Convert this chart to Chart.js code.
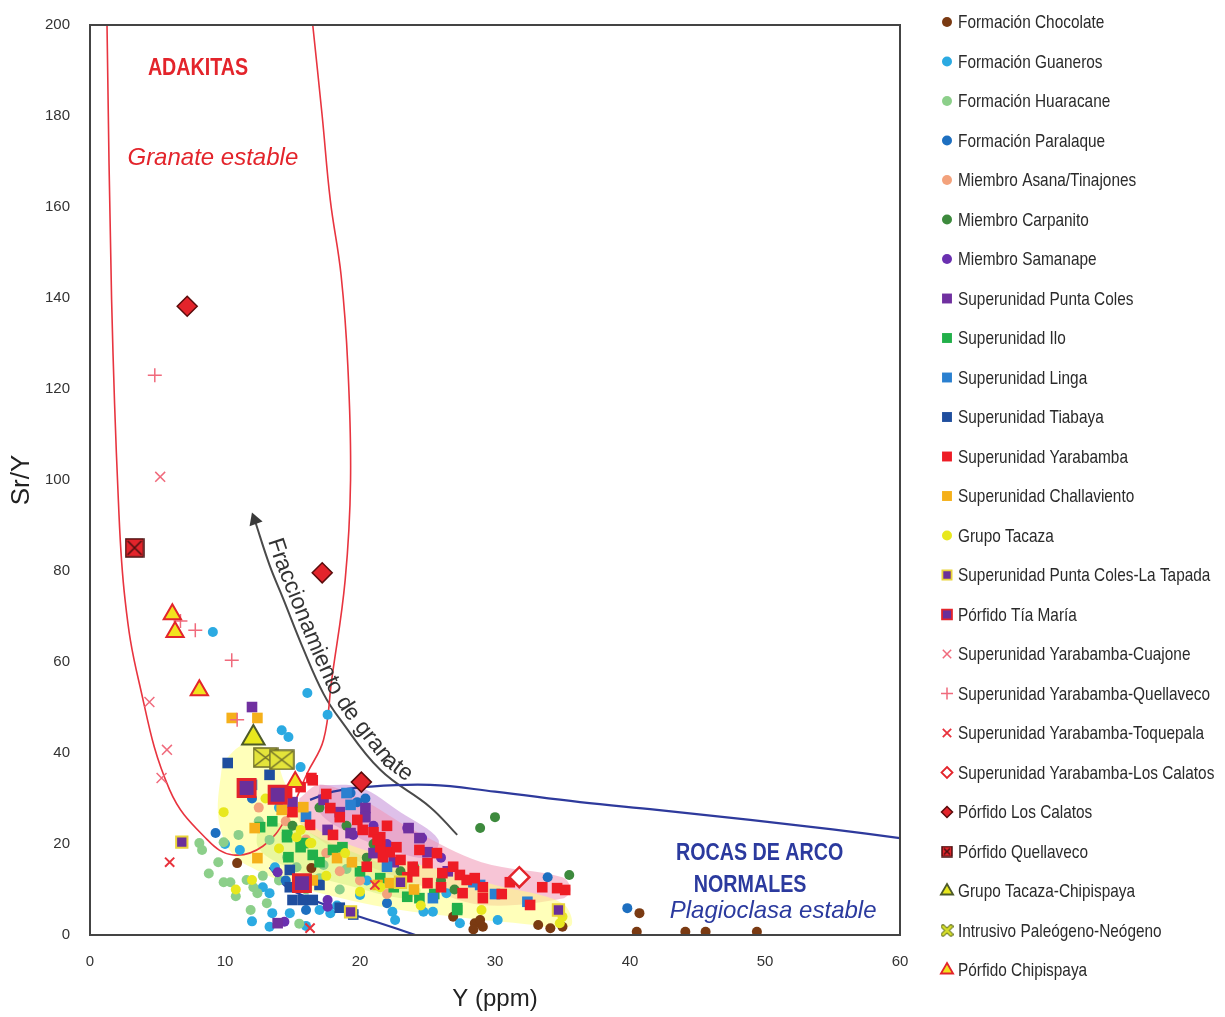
<!DOCTYPE html>
<html>
<head>
<meta charset="utf-8">
<script src="https://cdn.jsdelivr.net/npm/chart.js@4.4.1/dist/chart.umd.min.js"></script>
<style>
  html, body { margin: 0; padding: 0; background: #fff; }
  #wrap { width: 1225px; height: 1017px; }
</style>
</head>
<body>
<div id="wrap"><canvas id="srY"></canvas></div>
<script>
// --- data: [Y (ppm), Sr/Y] ---
const chocolate = [[40.7,4.8],[40.5,0.7],[44.1,0.7],[45.6,0.7],[49.4,0.7],[10.9,15.8],[16.4,14.7],[26.9,4],[28.5,2.6],[28.9,3.3],[29.1,1.8],[28.4,1.2],[33.2,2.2],[34.1,1.5],[35,1.8]];
const guaneros = [[9.1,66.6],[16.1,53.2],[17.6,48.4],[14.2,45],[14.7,43.5],[15.6,36.9],[11.1,18.7],[12.8,10.5],[13.3,9.2],[13.5,4.8],[14.8,4.8],[17,5.5],[17.8,4.8],[13.3,1.8],[13.7,14.9],[22.4,5.1],[22.6,3.3],[24.7,5.1],[25.4,5.1],[27.4,2.6],[30.2,3.3],[26.4,9.2],[20,8.8],[18.3,6.5],[12,3],[16,2],[19.5,5],[14,28],[20.5,12],[10,20]];
const huaracane = [[9.9,11.6],[10.4,11.6],[11.6,12.1],[12.1,10.5],[12.4,9.2],[11.9,5.5],[13.1,7],[8.1,20.2],[8.3,18.7],[9.9,20.4],[14.6,17.1],[15.3,14.9],[17.3,15.4],[13.3,20.9],[10.8,8.5],[12.8,13],[14,12],[16,10],[18.5,10],[11,22],[12.5,25],[9.5,16],[8.8,13.5],[15.5,2.5],[17,12.5],[19,14.5]];
const paralaque = [[9.3,22.4],[39.8,5.9],[19.3,31.2],[19.8,29.2],[20.4,30],[33.9,12.7],[14.5,12],[16,5.5],[22,7],[12,30]];
const asana = [[14.5,25],[16,21],[18.5,14],[20,12],[22,9],[12.5,28],[17.5,18]];
const carpanito = [[28.9,23.5],[30,25.9],[35.5,13.2],[17,28],[19,24],[21,20],[24,15],[26,12],[20.5,17],[23,14],[15,24],[27,10]];
const samanape = [[23.5,23.5],[24.6,21.3],[13.9,13.8],[17.6,6.2],[14.4,2.9],[17.6,7.7],[19.5,22],[22,20],[26,17],[21,24]];
const puntaColes = [[12,50.1],[20.4,27.9],[20.4,25.9],[23.6,23.5],[24.4,21.3],[25,18.2],[17.6,23.1],[19.3,22.4],[21,18],[17.3,29.7],[15,29.2],[14.3,31.2],[13.9,2.6],[22.5,16],[26.5,14],[18.5,27]];
const ilo = [[14.6,22],[15.6,19.3],[16.5,17.6],[23.5,8.4],[24.4,8.1],[27.2,5.9],[14.7,17.1],[12.6,23.7],[14.6,21.5],[15.8,20.2],[18,18.7],[18.7,19.3],[27.2,5.5],[20,14],[21.5,12.5],[22.5,10.5],[25.5,9],[13.5,25],[17,16]];
const linga = [[19.3,28.6],[19,31.2],[28.9,11],[32.4,7.3],[28.4,11.6],[25.4,8.1],[16,26],[22,15],[30,9],[12,33]];
const tiabaya = [[10.2,37.8],[13.3,35.2],[15,7.7],[15.8,7.7],[16.5,7.7],[14.8,10.5],[14.8,14.3],[18.5,6],[19.5,4.5],[17,11]];
const yarabamba = [[16.5,34],[17.8,27.9],[21.5,21.5],[22.2,18.2],[23,16.5],[24.4,18.7],[25,15.8],[26.1,13.6],[26.9,15],[27.4,13.2],[27.9,12.1],[29.1,10.5],[31.1,11.6],[34.6,10.3],[35.2,9.9],[27.6,9.2],[29.1,8.1],[32.6,6.6],[15.6,32.5],[16.4,34.5],[14.6,31.2],[21,22.6],[21.5,19.3],[23.9,15],[23.5,12.7],[25,11.4],[25.7,18],[19.8,25.3],[20.2,23.1],[18.5,25.9],[22.7,19.3],[16.3,24.2],[15,27],[21.3,20.9],[21.7,17.1],[24,14],[26,10.5],[28.5,12.5],[33.5,10.5],[20.5,15],[18,22],[30.5,9],[17.5,31],[22,24]];
const challaviento = [[10.5,47.7],[12.4,47.7],[12.2,23.5],[14.2,27.5],[15.8,28.1],[19.4,16],[12.4,16.9],[18.3,16.9],[22.2,11.4],[21.3,11],[16.5,12],[24,10]];
const tacaza = [[9.9,27],[12,12.1],[15.3,21.5],[16.4,20.2],[18.9,18],[15.6,23.1],[16.3,20.2],[21.5,10.5],[34.8,2.6],[35,4],[11.5,33],[13,30],[14,19],[20,9.5],[24.5,6.5],[29,5.5],[10.8,10],[17.5,13]];
const laTapada = [[6.8,20.4],[19.3,5.1],[23,11.6],[34.7,5.5]];
const tiaMaria = [[11.6,32.3],[13.9,30.8],[15.7,11.4]];
const cuajone = [[5.2,100.7],[4.4,51.2],[5.7,40.7],[5.3,34.5]];
const quellavecoSU = [[4.8,123],[6.7,69],[7.8,67],[10.5,60.4],[10.9,47.3]];
const toquepala = [[5.9,16],[16.3,1.5],[21.1,11]];
const losCalatosSU = [[31.8,12.7]];
const porfidoLosCalatos = [[7.2,138.2],[17.2,79.6],[20.1,33.6]];
const porfidoQuellaveco = [[3.3,85.1]];
const tacazaChipispaya = [[12.1,43.3]];
const intrusivo = [[13,39],[14.2,38.5]];
const porfidoChipispaya = [[6.1,70.5],[6.3,66.6],[8.1,53.8],[15.2,33.6]];

// boundaries and fields
const adakiteLine = [[1.26,200],[1.6,139.6],[2.1,95.6],[2.6,73.6],[3.6,56],[5.9,31.9],[8.7,20.9],[10.6,17.6],[12.8,19.5],[14.6,26],[16.1,35.6],[17.3,42.9],[17.9,56],[18.9,78],[19.3,100],[19.1,125],[18.6,145],[17.8,161.5],[17.2,180],[16.5,200]];
const arcLine = [[16.3,29.7],[18,31.5],[20.2,32.5],[25.2,33],[30,31.5],[36.3,29.2],[42,27.5],[48.9,25.3],[55,23.2],[60,21.3]];
const arcLineLow = [[13.3,14.9],[14.6,10.5],[18,6],[21.5,2.6],[24.1,0]];
const arrowLine = [[27.2,22],[25.2,28.1],[21.5,36.3],[18.5,47.5],[17.3,53],[15.8,62.9],[14.3,74],[13.3,81.3],[12.2,91.2]];
const yellowField = [[9.8,38],[11.5,42],[13.5,40],[14.5,33],[16.5,24],[20,19],[25,15],[30,11],[35,7],[35.6,2],[32,2.5],[27,4],[22,6],[18,8.5],[15,11],[12.5,14],[10.5,18],[9.5,26],[9.8,38]];
const pinkField = [[15.5,30],[17,33],[20,30],[24,23],[29,16],[35,12.7],[35.6,10],[35,8],[29,6.6],[24.4,11],[20,16],[17,21],[15.5,25],[15.5,30]];
const purpleField = [[17,33],[20,32.5],[23,27],[25.8,21],[25,17],[22,19],[19.5,22],[17,27],[17,33]];
const greenField = [[12.5,25],[15,24],[18,20],[22,15],[24.5,10],[23.5,8],[19,11],[15,14.5],[12.5,19],[12.5,25]];

const xTicks = [0, 10, 20, 30, 40, 50, 60];
const yTicks = [0, 20, 40, 60, 80, 100, 120, 140, 160, 180, 200];

const toXY = arr => arr.map(p => ({x: p[0], y: p[1]}));

function marker(w, h, draw) {
    const c = document.createElement('canvas');
    c.width = w; c.height = h;
    draw(c.getContext('2d'), w, h);
    return c;
}
function quellMarker(s) {
    return marker(s, s, (g, w) => {
        g.fillStyle = '#E3242B'; g.fillRect(1, 1, w - 2, w - 2);
        g.strokeStyle = '#4a1010'; g.lineWidth = 1.5; g.strokeRect(1, 1, w - 2, w - 2);
        g.beginPath(); g.moveTo(3, 3); g.lineTo(w - 3, w - 3); g.moveTo(w - 3, 3); g.lineTo(3, w - 3); g.stroke();
    });
}
const intrusivoImg = marker(26, 21, (g, w, h) => {
    g.fillStyle = '#E4E43A'; g.fillRect(1, 1, w - 2, h - 2);
    g.strokeStyle = '#6b6b2a'; g.lineWidth = 1.5; g.strokeRect(1, 1, w - 2, h - 2);
    g.beginPath(); g.moveTo(2, 2); g.lineTo(w - 2, h - 2); g.moveTo(w - 2, 2); g.lineTo(2, h - 2); g.stroke();
});
const intrusivoLeg = marker(13, 13, (g, w) => {
    g.lineCap = 'round';
    g.strokeStyle = '#5d6b1e'; g.lineWidth = 4.5;
    g.beginPath(); g.moveTo(2.5, 2.5); g.lineTo(w - 2.5, w - 2.5); g.moveTo(w - 2.5, 2.5); g.lineTo(2.5, w - 2.5); g.stroke();
    g.strokeStyle = '#D4DC2C'; g.lineWidth = 2.5; g.stroke();
});

// label, data, style, radius, fill, border, borderWidth, legend radius
const series = [
    {label: 'Formación Chocolate', data: chocolate, ps: 'circle', r: 5, bg: '#7A3A12', bc: '#7A3A12', bw: 0, lr: 5},
    {label: 'Formación Guaneros', data: guaneros, ps: 'circle', r: 5, bg: '#2BAAE2', bc: '#2BAAE2', bw: 0, lr: 5},
    {label: 'Formación Huaracane', data: huaracane, ps: 'circle', r: 5, bg: '#8CCF8A', bc: '#8CCF8A', bw: 0, lr: 5},
    {label: 'Formación Paralaque', data: paralaque, ps: 'circle', r: 5, bg: '#1D6FC0', bc: '#1D6FC0', bw: 0, lr: 5},
    {label: 'Miembro Asana/Tinajones', data: asana, ps: 'circle', r: 5, bg: '#F3A27C', bc: '#F3A27C', bw: 0, lr: 5},
    {label: 'Miembro Carpanito', data: carpanito, ps: 'circle', r: 5, bg: '#3D8A3D', bc: '#3D8A3D', bw: 0, lr: 5},
    {label: 'Miembro Samanape', data: samanape, ps: 'circle', r: 5, bg: '#6A30B0', bc: '#6A30B0', bw: 0, lr: 5},
    {label: 'Superunidad Punta Coles', data: puntaColes, ps: 'rect', r: 7.5, bg: '#7030A0', bc: '#7030A0', bw: 0, lr: 7},
    {label: 'Superunidad Ilo', data: ilo, ps: 'rect', r: 7.5, bg: '#22B04A', bc: '#22B04A', bw: 0, lr: 7},
    {label: 'Superunidad Linga', data: linga, ps: 'rect', r: 7.5, bg: '#2A80D0', bc: '#2A80D0', bw: 0, lr: 7},
    {label: 'Superunidad Tiabaya', data: tiabaya, ps: 'rect', r: 7.5, bg: '#1F4E9E', bc: '#1F4E9E', bw: 0, lr: 7},
    {label: 'Superunidad Yarabamba', data: yarabamba, ps: 'rect', r: 7.5, bg: '#EE1C25', bc: '#EE1C25', bw: 0, lr: 7},
    {label: 'Superunidad Challaviento', data: challaviento, ps: 'rect', r: 7.5, bg: '#F5B01A', bc: '#F5B01A', bw: 0, lr: 7},
    {label: 'Grupo Tacaza', data: tacaza, ps: 'circle', r: 5, bg: '#E8E81E', bc: '#E8E81E', bw: 0, lr: 5},
    {label: 'Superunidad Punta Coles-La Tapada', data: laTapada, ps: 'rect', r: 8, bg: '#6A2F9A', bc: '#E9D43A', bw: 2, lr: 6.5},
    {label: 'Pórfido Tía María', data: tiaMaria, ps: 'rect', r: 12, bg: '#6A2F9A', bc: '#E3242B', bw: 3, lr: 7},
    {label: 'Superunidad Yarabamba-Cuajone', data: cuajone, ps: 'crossRot', r: 7, bg: '#F06A7C', bc: '#F06A7C', bw: 1.5, lr: 6},
    {label: 'Superunidad Yarabamba-Quellaveco', data: quellavecoSU, ps: 'cross', r: 7, bg: '#F06A7C', bc: '#F06A7C', bw: 1.5, lr: 6},
    {label: 'Superunidad Yarabamba-Toquepala', data: toquepala, ps: 'crossRot', r: 6.5, bg: '#E8323C', bc: '#E8323C', bw: 2, lr: 6},
    {label: 'Superunidad Yarabamba-Los Calatos', data: losCalatosSU, ps: 'rectRot', r: 10, bg: '#ffffff', bc: '#E3242B', bw: 2.5, lr: 5.5},
    {label: 'Pórfido Los Calatos', data: porfidoLosCalatos, ps: 'rectRot', r: 10, bg: '#E3242B', bc: '#5a0c0c', bw: 1.5, lr: 5.5},
    {label: 'Pórfido Quellaveco', data: porfidoQuellaveco, ps: quellMarker(20), r: 10, legendImg: quellMarker(12), lr: 6},
    {label: 'Grupo Tacaza-Chipispaya', data: tacazaChipispaya, ps: 'triangle', r: 13, bg: '#E8E81E', bc: '#4d5a2a', bw: 2, lr: 7},
    {label: 'Intrusivo Paleógeno-Neógeno', data: intrusivo, ps: intrusivoImg, r: 12, legendImg: intrusivoLeg, lr: 6},
    {label: 'Pórfido Chipispaya', data: porfidoChipispaya, ps: 'triangle', r: 10, bg: '#F2E21E', bc: '#E3242B', bw: 2, lr: 7}
];

const datasets = [];
series.forEach((s, i) => {
    datasets.push({
        label: s.label,
        data: toXY(s.data),
        pointStyle: s.ps,
        pointRadius: s.r,
        pointBackgroundColor: s.bg || '#000',
        pointBorderColor: s.bc || '#000',
        pointBorderWidth: s.bw || 0,
        order: 25 - i
    });
});

function fieldSet(data, color) {
    return {data: toXY(data), showLine: true, fill: 'shape', backgroundColor: color,
            borderWidth: 0, borderColor: 'rgba(0,0,0,0)', pointRadius: 0, tension: 0.35, order: 50};
}
function lineSet(data, color, width) {
    return {data: toXY(data), showLine: true, fill: false, borderColor: color, borderWidth: width,
            pointRadius: 0, tension: 0.4, order: 40};
}
datasets.push(fieldSet(yellowField, 'rgba(255,255,130,0.55)'));
datasets.push(fieldSet(greenField, 'rgba(150,220,120,0.45)'));
datasets.push(fieldSet(pinkField, 'rgba(240,150,180,0.55)'));
datasets.push(fieldSet(purpleField, 'rgba(195,140,215,0.55)'));
datasets.push(lineSet(adakiteLine, '#E8343F', 1.6));
datasets.push(lineSet(arcLine, '#2E3A9C', 2.2));
datasets.push(lineSet(arcLineLow, '#2E3A9C', 2.2));
const arrowSet = lineSet(arrowLine, '#4a4a4a', 2);
arrowSet.pointRadius = c => c.dataIndex === arrowLine.length - 1 ? 8 : 0;
arrowSet.pointStyle = 'triangle';
arrowSet.pointRotation = -20;
arrowSet.pointBackgroundColor = '#3a3a3a';
arrowSet.pointBorderColor = '#3a3a3a';
arrowSet.pointBorderWidth = 0;
datasets.push(arrowSet);

function drawMarker(ctx, s, x, y) {
    if (s.legendImg) {
        ctx.drawImage(s.legendImg, x - s.legendImg.width / 2, y - s.legendImg.height / 2);
        return;
    }
    const r = s.lr;
    ctx.save();
    ctx.fillStyle = s.bg; ctx.strokeStyle = s.bc;
    ctx.lineWidth = Math.min(s.bw, 1.8);
    ctx.beginPath();
    if (s.ps === 'circle') {
        ctx.arc(x, y, r, 0, Math.PI * 2); ctx.fill();
    } else if (s.ps === 'rect') {
        const h = r * Math.SQRT1_2;
        ctx.rect(x - h, y - h, 2 * h, 2 * h); ctx.fill(); if (s.bw) ctx.stroke();
    } else if (s.ps === 'rectRot') {
        ctx.moveTo(x, y - r); ctx.lineTo(x + r, y); ctx.lineTo(x, y + r); ctx.lineTo(x - r, y); ctx.closePath();
        ctx.fill(); ctx.stroke();
    } else if (s.ps === 'triangle') {
        ctx.moveTo(x, y - r); ctx.lineTo(x + r * 0.87, y + r * 0.5); ctx.lineTo(x - r * 0.87, y + r * 0.5); ctx.closePath();
        ctx.fill(); ctx.stroke();
    } else if (s.ps === 'crossRot') {
        const d = r * 0.7;
        ctx.moveTo(x - d, y - d); ctx.lineTo(x + d, y + d); ctx.moveTo(x + d, y - d); ctx.lineTo(x - d, y + d); ctx.stroke();
    } else if (s.ps === 'cross') {
        ctx.moveTo(x, y - r); ctx.lineTo(x, y + r); ctx.moveTo(x - r, y); ctx.lineTo(x + r, y); ctx.stroke();
    }
    ctx.restore();
}

// narrow text: Arial metrics squeezed horizontally
function narrowText(ctx, text, x, y, squeeze) {
    ctx.save();
    ctx.translate(x, y);
    ctx.scale(squeeze, 1);
    ctx.fillText(text, 0, 0);
    ctx.restore();
}

const sideLegend = {
    id: 'sideLegend',
    afterDraw(chart) {
        const ctx = chart.ctx;
        ctx.save();
        ctx.font = '19px "Liberation Sans", Arial, sans-serif';
        ctx.textBaseline = 'middle';
        ctx.textAlign = 'left';
        ctx.fillStyle = '#2a2a2a';
        series.forEach((s, i) => {
            const y = 22 + i * 39.5;
            drawMarker(ctx, s, 947, y);
            narrowText(ctx, s.label, 958, y + 1, 0.81);
        });
        ctx.restore();
    }
};

function drawTextAlong(ctx, pts, text, start, lift) {
    const segs = [];
    let total = 0;
    for (let i = 1; i < pts.length; i++) {
        const dx = pts[i].x - pts[i - 1].x, dy = pts[i].y - pts[i - 1].y;
        const l = Math.hypot(dx, dy);
        segs.push({a: pts[i - 1], dx, dy, l, s: total});
        total += l;
    }
    let pos = start;
    for (const ch of text) {
        const w = ctx.measureText(ch).width;
        const mid = pos + w / 2;
        const g = segs.find(q => mid >= q.s && mid <= q.s + q.l) || segs[segs.length - 1];
        const t = (mid - g.s) / g.l;
        ctx.save();
        ctx.translate(g.a.x + g.dx * t, g.a.y + g.dy * t);
        ctx.rotate(Math.atan2(g.dy, g.dx));
        ctx.fillText(ch, -w / 2, -lift);
        ctx.restore();
        pos += w;
    }
}

const notes = {
    id: 'notes',
    afterDatasetsDraw(chart) {
        const {ctx, chartArea: a, scales: {x, y}} = chart;
        ctx.save();
        ctx.textAlign = 'center';
        ctx.textBaseline = 'middle';
        ctx.fillStyle = '#E3242B';
        ctx.font = 'bold 24px "Liberation Sans", Arial, sans-serif';
        narrowText(ctx, 'ADAKITAS', x.getPixelForValue(8.0), y.getPixelForValue(190.5), 0.82);
        ctx.font = 'italic 24px "Liberation Sans", Arial, sans-serif';
        ctx.fillText('Granate estable', x.getPixelForValue(9.1), y.getPixelForValue(170.8));
        ctx.fillStyle = '#2B3A9E';
        ctx.font = 'bold 24px "Liberation Sans", Arial, sans-serif';
        narrowText(ctx, 'ROCAS DE ARCO', x.getPixelForValue(49.6), y.getPixelForValue(18), 0.82);
        narrowText(ctx, 'NORMALES', x.getPixelForValue(48.9), y.getPixelForValue(11), 0.82);
        ctx.font = 'italic 24px "Liberation Sans", Arial, sans-serif';
        ctx.fillText('Plagioclasa estable', x.getPixelForValue(50.6), y.getPixelForValue(5.1));

        const pts = arrowLine.slice().reverse().map(p => ({x: x.getPixelForValue(p[0]), y: y.getPixelForValue(p[1])}));
        ctx.fillStyle = '#333';
        ctx.textAlign = 'left';
        ctx.textBaseline = 'alphabetic';
        ctx.font = '23px "Liberation Sans", Arial, sans-serif';
        drawTextAlong(ctx, pts, 'Fraccionamiento de granate', 24, 6);

        ctx.strokeStyle = '#444';
        ctx.lineWidth = 2;
        ctx.strokeRect(a.left, a.top, a.right - a.left, a.bottom - a.top);
        ctx.restore();
    }
};

const tickFont = {family: '"Liberation Sans", Arial, sans-serif', size: 15};

new Chart(document.getElementById('srY').getContext('2d'), {
    type: 'scatter',
    data: {datasets: datasets},
    options: {
        responsive: true,
        maintainAspectRatio: false,
        animation: false,
        devicePixelRatio: 1,
        events: [],
        layout: {padding: {top: 25, right: 325, left: 0, bottom: 0}},
        scales: {
            x: {
                type: 'linear', min: 0, max: 60,
                afterBuildTicks: s => { s.ticks = xTicks.map(v => ({value: v})); },
                afterFit: s => { s.height = 82; s.paddingLeft = 0; s.paddingRight = 0; },
                grid: {display: false, drawTicks: false},
                border: {display: false},
                ticks: {font: tickFont, color: '#333', padding: 18},
                title: {display: true, text: 'Y (ppm)', color: '#222',
                        font: {family: '"Liberation Sans", Arial, sans-serif', size: 24},
                        padding: {top: 0, bottom: 3}}
            },
            y: {
                type: 'linear', min: 0, max: 200,
                afterBuildTicks: s => { s.ticks = yTicks.map(v => ({value: v})); },
                afterFit: s => { s.width = 90; s.paddingTop = 0; s.paddingBottom = 0; },
                grid: {display: false, drawTicks: false},
                border: {display: false},
                ticks: {font: tickFont, color: '#333', padding: 20},
                title: {display: true, text: 'Sr/Y', color: '#222',
                        font: {family: '"Liberation Sans", Arial, sans-serif', size: 26},
                        padding: {top: 6, bottom: 0}}
            }
        },
        plugins: {
            legend: {display: false},
            tooltip: {enabled: false}
        }
    },
    plugins: [notes, sideLegend]
});
</script>
</body>
</html>
